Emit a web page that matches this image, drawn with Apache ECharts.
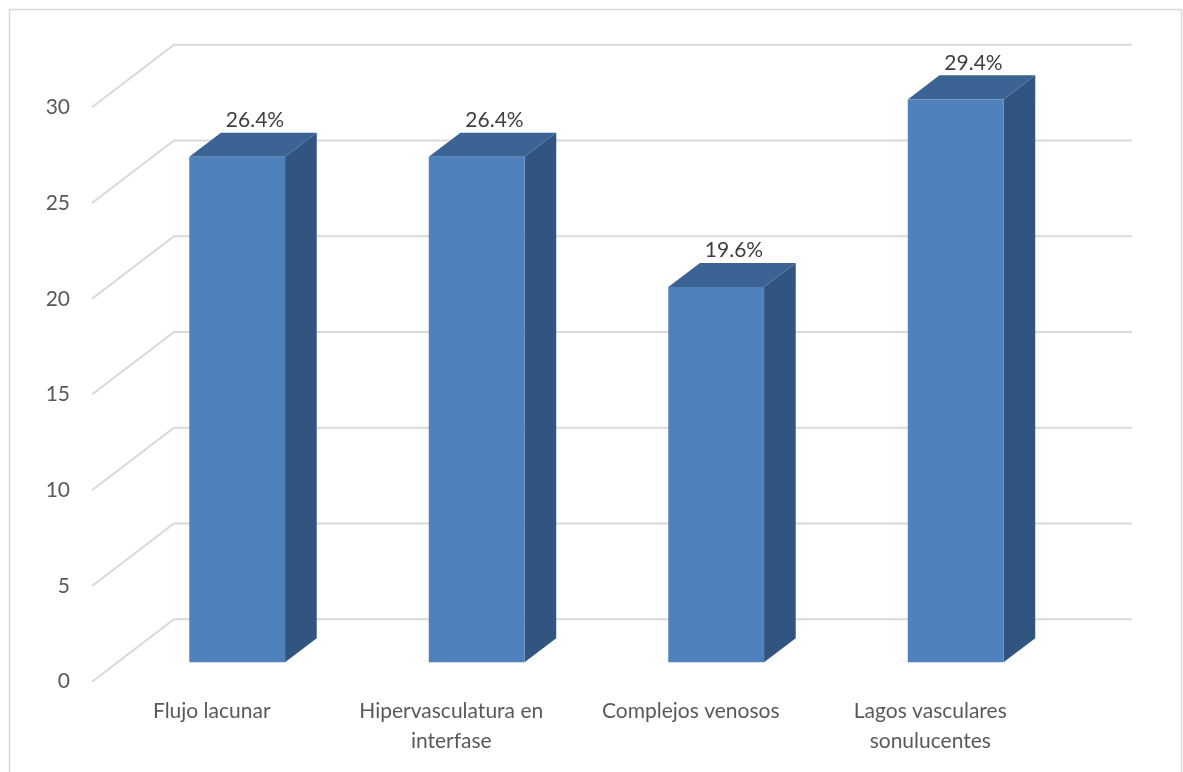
<!DOCTYPE html>
<html>
<head>
<meta charset="utf-8">
<script src="https://cdn.jsdelivr.net/npm/echarts@6/dist/echarts.min.js"></script>
<style>
  html, body { margin: 0; padding: 0; background: #ffffff; }
  #chart { width: 1183px; height: 772px; }
</style>
</head>
<body>
<div id="chart"></div>
<script>
// Categories and percentages shown on the bars
const categories = [
  'Flujo lacunar',
  'Hipervasculatura en\ninterfase',
  'Complejos venosos',
  'Lagos vasculares\nsonulucentes'
];
const percentages = [26.4, 26.4, 19.6, 29.4];

// Value levels for the wall / floor gridlines
const gridLevels = [0, 5, 10, 15, 20, 25, 30];

// Oblique depth of the plot box (front plane -> back wall), in pixels
const DEPTH_X = 82;
const DEPTH_Y = -62.5;
// Where each bar sits in depth, as fractions of the full depth
const BAR_FRONT = 0.31;
const BAR_DEPTH = 0.386;
const BAR_WIDTH = 0.4; // fraction of a category band

const GRID_COLOR = '#d9d9d9';
const TEXT_COLOR = '#595959';
const FONT = 'Lato, "Open Sans", sans-serif';

const chart = echarts.init(document.getElementById('chart'), null, { renderer: 'canvas' });

function renderGrid(params, api) {
  const v = api.value(1);
  const band = api.size([1, 0])[0];
  const first = api.coord([0, v]);
  const last = api.coord([categories.length - 1, v]);
  const left = first[0] - band / 2;
  const right = last[0] + band / 2;
  const y = first[1];
  return {
    type: 'polyline',
    shape: {
      points: [
        [left, y],
        [left + DEPTH_X, y + DEPTH_Y],
        [right + DEPTH_X, y + DEPTH_Y]
      ]
    },
    style: { stroke: GRID_COLOR, lineWidth: 2, fill: null },
    silent: true
  };
}

function renderBar(params, api) {
  const idx = api.value(0);
  const val = api.value(1);
  const band = api.size([1, 0])[0];
  const base = api.coord([idx, 0]);
  const top = api.coord([idx, val]);
  const w = band * BAR_WIDTH;
  const ox = BAR_FRONT * DEPTH_X;
  const oy = BAR_FRONT * DEPTH_Y;
  const dx = BAR_DEPTH * DEPTH_X;
  const dy = BAR_DEPTH * DEPTH_Y;

  const x0 = base[0] + ox - w / 2;
  const x1 = base[0] + ox + w / 2;
  const yb = base[1] + oy;
  const yt = top[1] + oy;

  return {
    type: 'group',
    children: [
      {
        type: 'polygon',
        shape: { points: [[x1, yt], [x1 + dx, yt + dy], [x1 + dx, yb + dy], [x1, yb]] },
        style: { fill: '#325480' }
      },
      {
        type: 'polygon',
        shape: { points: [[x0, yt], [x0 + dx, yt + dy], [x1 + dx, yt + dy], [x1, yt]] },
        style: { fill: '#3b6494' }
      },
      {
        type: 'rect',
        shape: { x: x0, y: yt, width: w, height: yb - yt },
        style: { fill: '#4f81bd' }
      },
      {
        type: 'text',
        x: (x0 + x1) / 2 + dx / 2 + 2,
        y: yt + dy - 2,
        style: {
          text: val.toFixed(1) + '%',
          fill: '#404040',
          font: '21px ' + FONT,
          align: 'center',
          verticalAlign: 'bottom'
        }
      }
    ]
  };
}

chart.setOption({
  animation: false,
  backgroundColor: '#ffffff',
  graphic: [
    {
      type: 'rect',
      shape: { x: 9.5, y: 9.5, width: 1172, height: 780 },
      style: { fill: null, stroke: GRID_COLOR, lineWidth: 1.5 },
      silent: true,
      z: -10
    }
  ],
  grid: {
    left: 92,
    top: 107.3,
    width: 958,
    height: 574.4,
    containLabel: false
  },
  xAxis: {
    type: 'category',
    data: categories,
    axisLine: { show: false },
    axisTick: { show: false },
    splitLine: { show: false },
    axisLabel: {
      interval: 0,
      margin: 15,
      color: TEXT_COLOR,
      fontFamily: FONT,
      fontSize: 21,
      lineHeight: 30
    }
  },
  yAxis: {
    type: 'value',
    min: 0,
    max: 30,
    interval: 5,
    axisLine: { show: false },
    axisTick: { show: false },
    splitLine: { show: false },
    axisLabel: {
      margin: 22,
      color: TEXT_COLOR,
      fontFamily: FONT,
      fontSize: 21
    }
  },
  series: [
    {
      type: 'custom',
      renderItem: renderGrid,
      data: gridLevels.map(v => [0, v]),
      z: 1,
      silent: true
    },
    {
      type: 'custom',
      renderItem: renderBar,
      data: percentages.map((v, i) => [i, v]),
      z: 2
    }
  ]
});
</script>
</body>
</html>
